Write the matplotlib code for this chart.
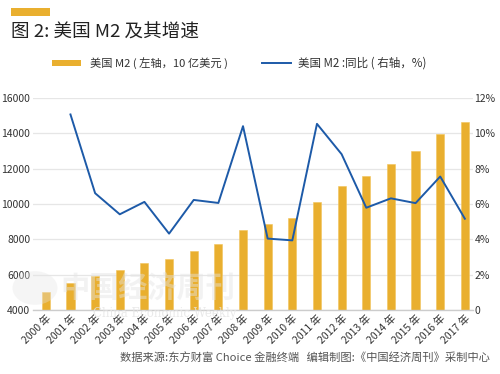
import matplotlib
matplotlib.use("Agg")
import matplotlib.pyplot as plt
from matplotlib.patches import Rectangle, Circle
import numpy as np

plt.rcParams['font.family'] = ['Noto Sans CJK SC', 'DejaVu Sans']

years = [f"{y} 年" for y in range(2000, 2018)]
m2 = [5020, 5570, 5950, 6270, 6650, 6910, 7330, 7760, 8520, 8860, 9200,
      10140, 10990, 11560, 12240, 13000, 13930, 14610]
growth_years_idx = list(range(1, 18))
growth = [11.05, 6.61, 5.42, 6.12, 4.33, 6.23, 6.06, 10.39, 4.05, 3.95,
          10.52, 8.81, 5.79, 6.32, 6.05, 7.55, 5.17]
left_ticks = [4000, 6000, 8000, 10000, 12000, 14000, 16000]
right_ticks = [0, 2, 4, 6, 8, 10, 12]
right_labels = ["0", "2%", "4%", "6%", "8%", "10%", "12%"]

bar_color = '#E9AF2F'
line_color = '#1D5AA8'
text_color = '#333333'

fig = plt.figure(figsize=(5.0, 3.74), dpi=100)
ax = fig.add_axes([0.066, 0.170, 0.880, 0.569])
x = np.arange(len(years))
ax.bar(x, [v - 4000 for v in m2], bottom=4000, width=0.33, color=bar_color,
       edgecolor='#F2C45A', linewidth=0.4, zorder=2)
ax.set_ylim(4000, 16000)
ax.set_xlim(-0.52, 17.33)
ax.set_yticks(left_ticks)
ax.set_yticklabels([str(t) for t in left_ticks], fontsize=7.5, color=text_color)
ax.grid(axis='y', color='#E6E6E6', linewidth=0.9, zorder=0)
ax.set_axisbelow(True)
for s in ['top', 'right', 'left']:
    ax.spines[s].set_visible(False)
ax.spines['bottom'].set_color('#CCCCCC')
ax.spines['bottom'].set_linewidth(1.0)
ax.tick_params(axis='y', length=0, pad=2)
ax.tick_params(axis='x', length=0, pad=2)
ax.set_xticks(x)
ax.set_xticklabels(years, rotation=45, ha='right', rotation_mode='anchor',
                   fontsize=7.5, color=text_color)

ax2 = ax.twinx()
ax2.plot(growth_years_idx, growth, color=line_color, linewidth=1.4, zorder=3)
ax2.set_ylim(0, 12)
ax2.set_yticks(right_ticks)
ax2.set_yticklabels(right_labels, fontsize=7.5, color=text_color)
ax2.tick_params(axis='y', length=0, pad=1)
for s in ['top', 'right', 'left', 'bottom']:
    ax2.spines[s].set_visible(False)

# watermark
fig.text(148/500, 1-288/374, "中国经济周刊", fontsize=21, color='#E4E4E4', alpha=0.45,
         ha='center', va='center', fontweight='bold', zorder=10)
fig.text(165/500, 1-313/374, "China Economic Weekly", fontsize=8.5, color='#E4E4E4',
         alpha=0.8, ha='center', va='center', family='DejaVu Serif', zorder=10)
fig.patches.append(Circle((35/500, 1-288/374), 0.045, transform=fig.transFigure,
                          facecolor='#E4E4E4', alpha=0.35, edgecolor='none', zorder=10))

# title accent and title
fig.patches.append(Rectangle((11/500, 1-16/374), 39/500, 8/374,
                             transform=fig.transFigure, facecolor=bar_color,
                             edgecolor='none'))
fig.text(11/500, 1-33/374, "图 2: 美国 M2 及其增速", fontsize=13.4, color='#222222',
         ha='left', va='center')

# legend
fig.patches.append(Rectangle((52/500, 1-66/374), 29/500, 6/374,
                             transform=fig.transFigure, facecolor=bar_color,
                             edgecolor='none'))
fig.text(90/500, 1-63/374, "美国 M2 ( 左轴，10 亿美元 )", fontsize=8.1,
         color=text_color, ha='left', va='center')
fig.lines.append(plt.Line2D([262/500, 291/500], [1-63/374, 1-63/374],
                            transform=fig.transFigure, color=line_color, linewidth=1.4))
fig.text(298/500, 1-63/374, "美国 M2 :同比 ( 右轴，%)", fontsize=8.3,
         color=text_color, ha='left', va='center')

# footer
fig.text(490/500, 1-358/374,
         "数据来源:东方财富 Choice 金融终端   编辑制图:《中国经济周刊》采制中心",
         fontsize=8.1, color='#555555', ha='right', va='center')

fig.savefig("out.png", dpi=100)
